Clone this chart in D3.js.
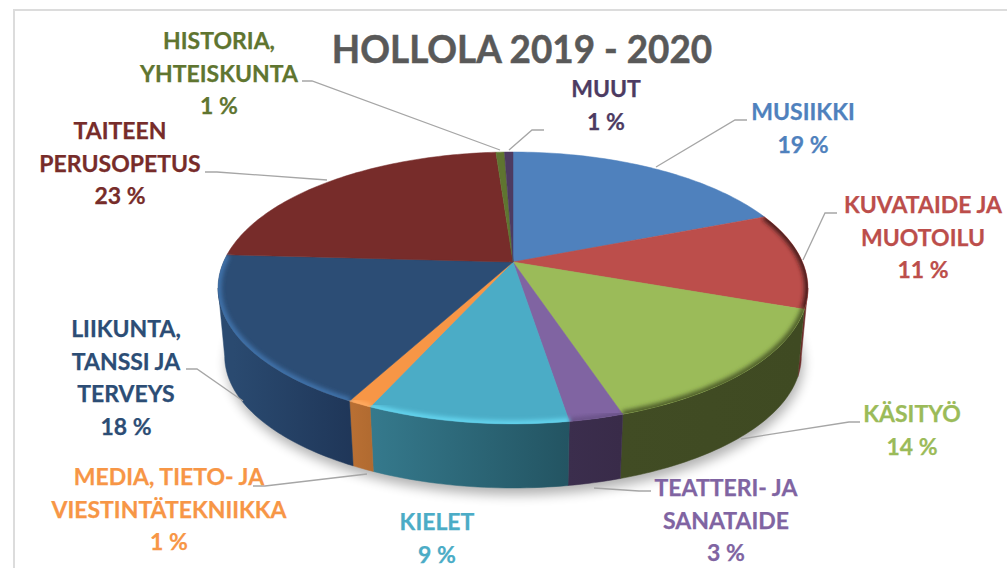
<!DOCTYPE html>
<html>
<head>
<meta charset="utf-8">
<script src="https://cdn.jsdelivr.net/npm/d3@7"></script>
<style>
    body { margin: 0; background: white; }
    svg { display: block; }
    text { font-family: Lato, sans-serif; font-weight: 700; text-anchor: middle; }
</style>
</head>
<body>
<div id="chart"></div>
<script>
const titleText = 'HOLLOLA 2019 - 2020';

// values are a bit finer than the printed labels
const labels = [
    ['MUSIIKKI'],
    ['KUVATAIDE JA', 'MUOTOILU'],
    ['KÄSITYÖ'],
    ['TEATTERI- JA', 'SANATAIDE'],
    ['KIELET'],
    ['MEDIA, TIETO- JA', 'VIESTINTÄTEKNIIKKA'],
    ['LIIKUNTA,', 'TANSSI JA', 'TERVEYS'],
    ['TAITEEN', 'PERUSOPETUS'],
    ['HISTORIA,', 'YHTEISKUNTA'],
    ['MUUT']
];
const values = [19.0, 11.49, 14.49, 2.5, 9.2, 1.1, 18.1, 23.0, 0.56, 0.56];

const topColors = ['#4f81bd', '#bc4e4b', '#9bbb59', '#8064a2', '#4bacc6', '#f79646', '#2c4d75', '#772c2a', '#5f7530', '#4d3b62'];
const sideFrom = ['#3b618e', '#6e2b29', '#414c24', '#3b2e4d', '#35798c', '#b86f33', '#2a4a70', '#5a2120', '#47581f', '#3a2c4a'];
const sideTo = ['#3b618e', '#6e2b29', '#3f4a22', '#392b49', '#235462', '#b06a30', '#1f3658', '#5a2120', '#47581f', '#3a2c4a'];
const rimColors = [null, '#4a1c1a', '#4f5f2a', '#6a5289', '#63d4ee', '#ffab62', '#3f72aa', null, null, null];

// where each label sits: centre x, first baseline
const labelPos = [
    [803, 120], [923, 213], [912, 422], [726, 496], [437, 530],
    [169, 485], [126, 337], [120, 139], [219, 49], [606, 97]
];
const leaders = [
    [[747, 120], [735, 120], [656, 167]],
    [[837, 213], [825, 213], [803, 260]],
    [[860, 422], [849, 422], [741, 439]],
    [[651, 491], [639, 491], [594, 488]],
    [],
    [[253, 486], [265, 486], [367, 474]],
    [[186, 369], [197, 369], [243, 401]],
    [[205, 172], [217, 172], [327, 180]],
    [[302, 81], [312, 81], [500, 150]],
    [[544, 130], [532, 130], [509, 150]]
];

const width = 1007, height = 568;
const lineGap = 32.6;

// the pie is tilted with some perspective, so the near edge comes out bigger
const cx = 513, tilt = 0.191;
const topDisc = { r: 289.5, y0: 262, s: 131 };
const bottomDisc = { r: 283, y0: 331, s: 127 };

// walls only show between these angles, where the disc is widest on screen
const wallStart = Math.PI - Math.acos(tilt);
const wallEnd = Math.PI + Math.acos(tilt);

function project(angle, disc) {
    const u = Math.sin(angle), v = -Math.cos(angle);
    const d = 1 - tilt * v;
    return [cx + disc.r * u / d, disc.y0 + disc.s * v / d];
}

function arcPoints(a0, a1, disc) {
    const n = Math.max(2, Math.ceil((a1 - a0) / 0.02));
    return d3.range(n + 1).map(i => project(a0 + (a1 - a0) * i / n, disc));
}

const line = d3.line();
const pie = d3.pie().sort(null).value((d, i) => values[i]);
const slices = pie(values);

const svg = d3.select('#chart').append('svg')
    .attr('width', width)
    .attr('height', height);

const defs = svg.append('defs');
defs.append('filter').attr('id', 'shadowBlur')
    .attr('x', '-10%').attr('y', '-10%').attr('width', '120%').attr('height', '120%')
    .append('feGaussianBlur').attr('stdDeviation', 6);
defs.append('filter').attr('id', 'rimBlur')
    .attr('x', '-10%').attr('y', '-10%').attr('width', '120%').attr('height', '120%')
    .append('feGaussianBlur').attr('stdDeviation', 2);
defs.append('clipPath').attr('id', 'topClip')
    .append('path')
    .attr('d', line(arcPoints(0, 2 * Math.PI, topDisc)) + 'Z');

// frame of the pasted chart, runs off the right and the bottom
svg.append('rect')
    .attr('x', 14).attr('y', 10)
    .attr('width', width + 20).attr('height', height + 20)
    .attr('fill', 'white')
    .attr('stroke', '#dcdcdc')
    .attr('stroke-width', 2);

svg.append('path')
    .attr('d', line(arcPoints(0, 2 * Math.PI, bottomDisc)) + 'Z')
    .attr('transform', 'translate(2,7)')
    .attr('fill', '#000')
    .attr('opacity', 0.3)
    .attr('filter', 'url(#shadowBlur)');

slices.forEach((d, i) => {
    const a = project(d.startAngle, bottomDisc)[0], b = project(d.endAngle, bottomDisc)[0];
    const grad = defs.append('linearGradient')
        .attr('id', 'side' + i)
        .attr('gradientUnits', 'userSpaceOnUse')
        .attr('x1', Math.min(a, b)).attr('x2', Math.max(a, b) + 1)
        .attr('y1', 0).attr('y2', 0);
    grad.append('stop').attr('offset', 0).attr('stop-color', sideFrom[i]);
    grad.append('stop').attr('offset', 1).attr('stop-color', sideTo[i]);
});

svg.append('g').selectAll('path')
    .data(slices.filter(d => d.endAngle > wallStart && d.startAngle < wallEnd))
    .enter().append('path')
    .attr('d', d => {
        const a0 = Math.max(d.startAngle, wallStart), a1 = Math.min(d.endAngle, wallEnd);
        return line(arcPoints(a0, a1, topDisc).concat(arcPoints(a0, a1, bottomDisc).reverse())) + 'Z';
    })
    .attr('fill', d => 'url(#side' + d.index + ')')
    .attr('stroke', d => 'url(#side' + d.index + ')')
    .attr('stroke-width', 0.5);

svg.append('g').selectAll('path')
    .data(slices)
    .enter().append('path')
    .attr('d', d => line([[cx, topDisc.y0]].concat(arcPoints(d.startAngle, d.endAngle, topDisc))) + 'Z')
    .attr('fill', (d, i) => topColors[i])
    .attr('stroke', (d, i) => topColors[i])
    .attr('stroke-width', 0.5);

// soft bevel just inside the near edge
svg.append('g')
    .attr('clip-path', 'url(#topClip)')
    .selectAll('path')
    .data(slices.filter((d, i) => rimColors[i]))
    .enter().append('path')
    .attr('d', d => line(arcPoints(d.startAngle, d.endAngle, topDisc)))
    .attr('fill', 'none')
    .attr('stroke', d => rimColors[d.index])
    .attr('stroke-width', 7)
    .attr('filter', 'url(#rimBlur)');

svg.append('g').selectAll('path')
    .data(leaders.filter(d => d.length))
    .enter().append('path')
    .attr('d', d => line(d))
    .attr('fill', 'none')
    .attr('stroke', '#a6a6a6')
    .attr('stroke-width', 1.3);

svg.append('text')
    .attr('transform', 'translate(522,63) scale(0.97,1)')
    .attr('font-size', 38)
    .attr('fill', '#595959')
    .attr('stroke', '#595959')
    .attr('stroke-width', 0.5)
    .text(titleText);

const labelGroups = svg.append('g').selectAll('g')
    .data(slices)
    .enter().append('g')
    .attr('transform', (d, i) => 'translate(' + labelPos[i][0] + ',' + labelPos[i][1] + ')')
    .attr('fill', (d, i) => topColors[i])
    .attr('stroke', (d, i) => topColors[i])
    .attr('stroke-width', 0.25)
    .attr('font-size', 23);

labelGroups.selectAll('text')
    .data((d, i) => labels[i].concat(Math.round(values[i]) + ' %'))
    .enter().append('text')
    .attr('y', (d, i) => i * lineGap)
    .text(d => d);
</script>
</body>
</html>
